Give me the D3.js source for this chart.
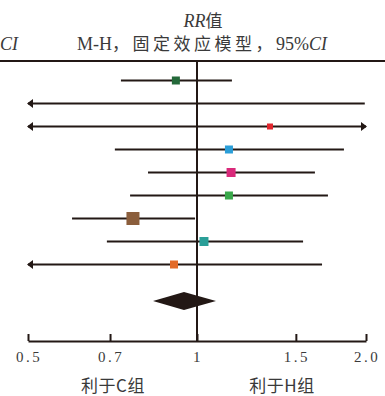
<!DOCTYPE html>
<html><head><meta charset="utf-8">
<script src="https://cdn.jsdelivr.net/npm/d3@7"></script>
<style>body{margin:0;background:#fff}svg{display:block}</style>
</head><body>
<svg id="c" width="385" height="396"></svg>
<script>
// Data (RR, 95% CI); lower/upper beyond the axis are drawn as arrows
const studies = ["S1","S2","S3","S4","S5","S6","S7","S8","S9"];
const rr     = [0.917, null, 1.349, 1.140, 1.150, 1.140, 0.769, 1.029, 0.910];
const lower  = [0.732, 0.40, 0.40, 0.714, 0.818, 0.760, 0.599, 0.691, 0.40];
const upper  = [1.154, 1.99, 2.60, 1.827, 1.622, 1.711, 0.992, 1.545, 1.670];
const weight = [8, 0, 6, 8, 9, 8, 13, 9, 8];
const colors = ["#24693a","#000","#e2262d","#2a9ed8","#d9297a","#39a84a","#8b5e3c","#2a9f98","#e26a28"];
const pooled = {rr:0.948, lower:0.835, upper:1.081};
const tickVals = [0.5, 0.7, 1, 1.5, 2.0];
const tickLabels = ["0.5","0.7","1","1.5","2.0"];

const ink = "#231815";
const txt = "#3a3a3a";
const svg = d3.select("#c");
const x = d3.scaleLog().domain([0.5, 2]).range([28, 366]);
const y = d3.scaleBand().domain(studies).range([69, 276]);
const yc = s => y(s) + y.bandwidth()/2;
const serif = "'Liberation Serif','Noto Sans CJK SC',serif";
const cjk = "'Noto Sans CJK SC'";

// titles
const t1 = svg.append("text").attr("x",203).attr("y",27).attr("text-anchor","middle")
  .attr("font-family",serif).attr("font-size",18).attr("fill",txt);
t1.append("tspan").attr("font-style","italic").text("RR");
t1.append("tspan").attr("font-family",cjk).attr("font-size",17).text("值");
const t2 = svg.append("text").attr("x",202).attr("y",50).attr("text-anchor","middle")
  .attr("font-family",serif).attr("font-size",18).attr("fill",txt);
t2.append("tspan").text("M-H");
t2.append("tspan").attr("font-family",cjk).attr("font-size",17).attr("letter-spacing",3.5).text("，固定效应模型，");
t2.append("tspan").text("95%");
t2.append("tspan").attr("font-style","italic").text("CI");
const t3 = svg.append("text").attr("x",0).attr("y",50).attr("text-anchor","start")
  .attr("font-family",serif).attr("font-size",18).attr("fill",txt);
t3.append("tspan").attr("font-style","italic").text("CI");

// top rule
svg.append("line").attr("x1",0).attr("x2",385).attr("y1",61).attr("y2",61)
  .attr("stroke",ink).attr("stroke-width",2);
// null line
svg.append("line").attr("x1",x(1)).attr("x2",x(1)).attr("y1",61).attr("y2",341)
  .attr("stroke",ink).attr("stroke-width",2);

// CI lines
const [xmin, xmax] = x.domain();
studies.forEach((s,i) => {
  const cy = yc(s);
  const lo = Math.max(lower[i], xmin), hi = Math.min(upper[i], xmax);
  svg.append("line").attr("x1",x(lo)).attr("x2",x(hi)).attr("y1",cy).attr("y2",cy)
    .attr("stroke",ink).attr("stroke-width",2);
  if (lower[i] < xmin) {
    const px = x(xmin) - 1;
    svg.append("path").attr("d",`M${px},${cy}L${px+6},${cy-4.5}L${px+6},${cy+4.5}Z`).attr("fill",ink);
  }
  if (upper[i] > xmax) {
    const px = x(xmax) + 1;
    svg.append("path").attr("d",`M${px},${cy}L${px-6},${cy-4.5}L${px-6},${cy+4.5}Z`).attr("fill",ink);
  }
  if (rr[i] != null && weight[i] > 0) {
    svg.append("rect").attr("x",x(rr[i])-weight[i]/2).attr("y",cy-weight[i]/2)
      .attr("width",weight[i]).attr("height",weight[i]).attr("fill",colors[i]);
  }
});

// pooled diamond
const dy = 301;
svg.append("path").attr("d",
  `M${x(pooled.lower)},${dy}L${x(pooled.rr)},${dy-9}L${x(pooled.upper)},${dy}L${x(pooled.rr)},${dy+9}Z`)
  .attr("fill",ink);

// axis
const axis = d3.axisTop(x).tickValues(tickVals).tickFormat(()=>"").tickSize(7).tickSizeOuter(0);
const g = svg.append("g").attr("transform","translate(0,341)").call(axis);
g.select(".domain").attr("stroke",ink).attr("stroke-width",2);
g.selectAll(".tick line").attr("stroke",ink).attr("stroke-width",2);
tickVals.forEach((v,i)=>{
  svg.append("text").attr("x",x(v)+1).attr("y",362).attr("text-anchor","middle")
    .attr("font-family",serif).attr("font-size",15).attr("letter-spacing",2.5).attr("fill",txt).text(tickLabels[i]);
});
svg.append("text").attr("x",113).attr("y",392).attr("text-anchor","middle")
  .attr("font-family",cjk).attr("font-size",17).attr("letter-spacing",0.5).attr("fill",txt).text("利于C组");
svg.append("text").attr("x",282).attr("y",392).attr("text-anchor","middle")
  .attr("font-family",cjk).attr("font-size",17).attr("letter-spacing",0.5).attr("fill",txt).text("利于H组");
</script>
</body></html>
